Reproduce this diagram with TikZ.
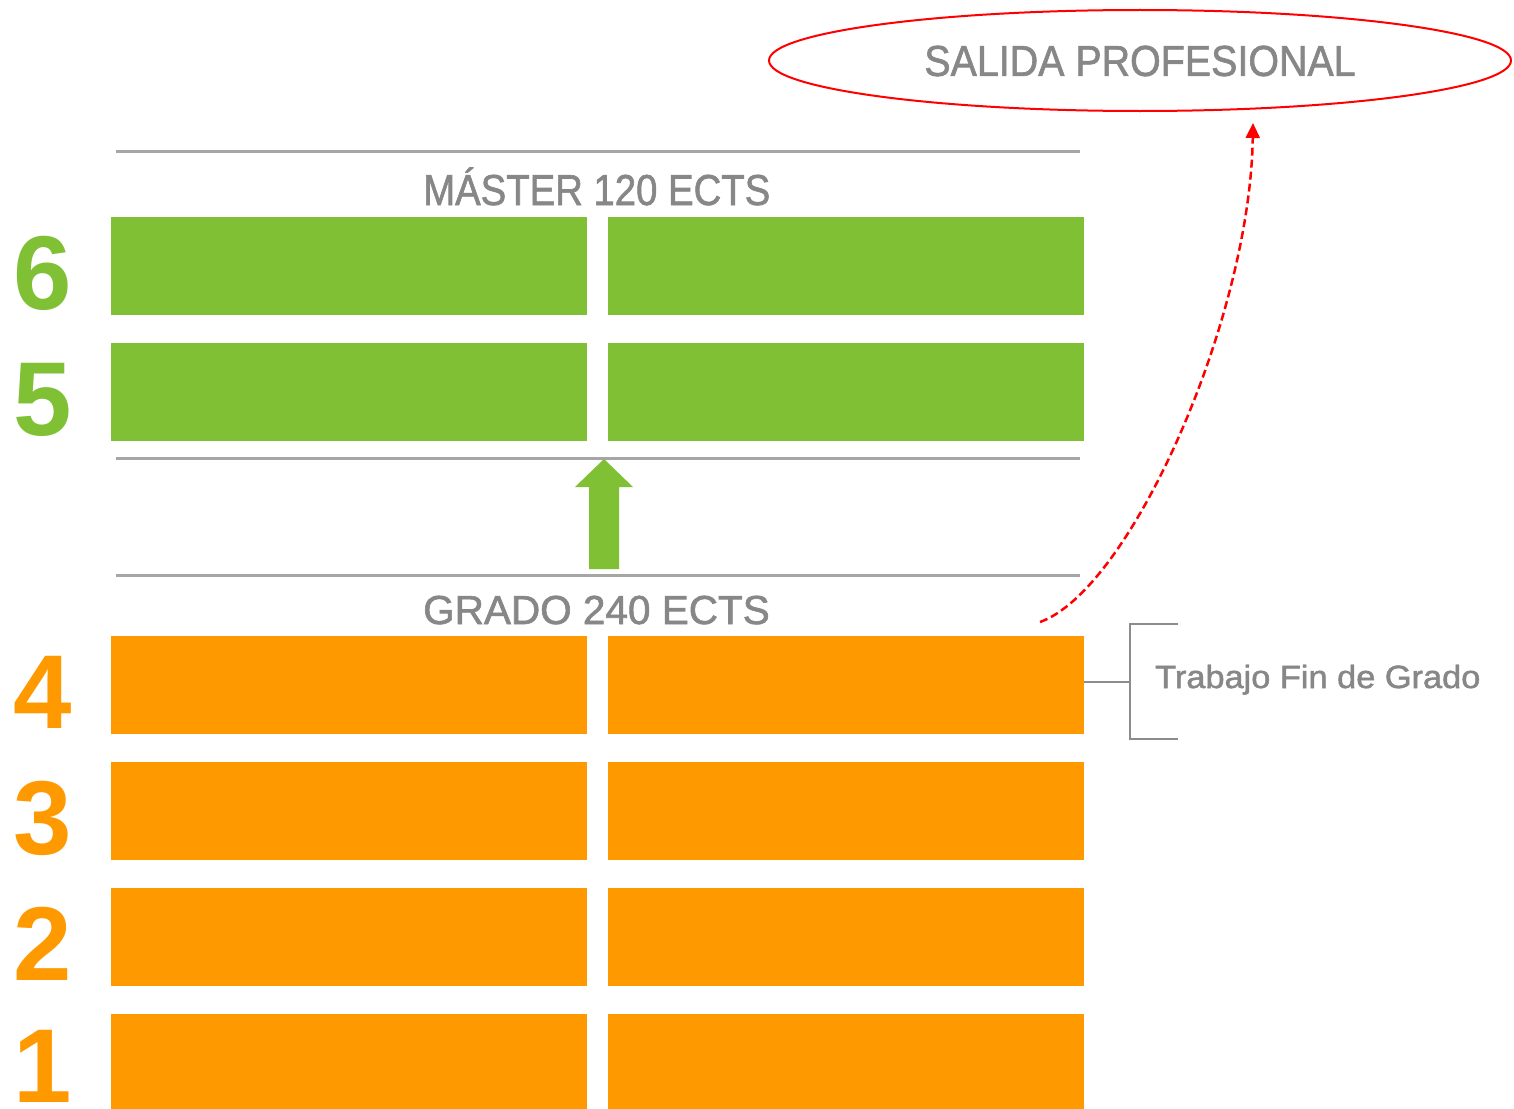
\documentclass[tikz,border=0pt]{standalone}
\usepackage{fontspec}
\setmainfont{Liberation Sans}
\newfontfamily\semifont[FakeBold=1.5]{Liberation Sans}
\usetikzlibrary{arrows.meta,shapes.geometric}
\definecolor{grn}{HTML}{7FC035}
\definecolor{org}{HTML}{FF9900}
\definecolor{txtgray}{HTML}{878787}
\definecolor{linegray}{HTML}{A6A6A6}
\definecolor{brgray}{HTML}{8C8C8C}
\begin{document}
\begin{tikzpicture}[x=1pt,y=-1pt,
  bar/.style={inner sep=0pt, outer sep=0pt, minimum width=476pt, minimum height=98pt},
  mbar/.style={bar, fill=grn},
  gbar/.style={bar, fill=org},
  digit/.style={inner sep=0pt, anchor=base, font=\fontsize{105}{105}\selectfont\bfseries},
  gline/.style={draw=linegray, line width=3pt},
  title/.style={inner sep=0pt, text=txtgray},
  bracket/.style={draw=brgray, line width=2pt},
  dasharrow/.style={draw=red, line width=2.5pt, dash pattern=on 8pt off 4pt, -{Triangle[length=15pt,width=14pt]}}
]
\useasboundingbox (0,0) rectangle (1514,1108);
\fill[white] (0,0) rectangle (1514,1108);

% gray separator lines
\draw[gline] (116,151) -- (1080,151);
\draw[gline] (116,458) -- (1080,458);
\draw[gline] (116,575) -- (1080,575);

% titles
\node[title, anchor=base west] (mtitle) at (423,205)
  {\fontsize{43.3}{50}\semifont\scalebox{0.885}[1]{MÁSTER 120 ECTS}};
\node[title, anchor=base west] (gtitle) at (423,624)
  {\fontsize{40.5}{48}\semifont\scalebox{1.0}[1]{GRADO 240 ECTS}};

% master bars
\node[mbar] (m6l) at (349,266) {};
\node[mbar] (m6r) at (846,266) {};
\node[mbar] (m5l) at (349,392) {};
\node[mbar] (m5r) at (846,392) {};

% grado bars
\node[gbar] (g4l) at (349,685) {};
\node[gbar] (g4r) at (846,685) {};
\node[gbar] (g3l) at (349,811) {};
\node[gbar] (g3r) at (846,811) {};
\node[gbar] (g2l) at (349,937) {};
\node[gbar] (g2r) at (846,937) {};
\node[gbar] (g1l) at (349,1063) {};
\node[gbar] (g1r) at (846,1063) {};

% digits
\node[digit, text=grn] (n6) at (43,309) {6};
\node[digit, text=grn] (n5) at (43,435) {5};
\node[digit, text=org] (n4) at (43,728) {4};
\node[digit, text=org] (n3) at (43,854) {3};
\node[digit, text=org] (n2) at (43,980) {2};
\node[digit, text=org] (n1) at (43,1102) {1};

% green up arrow
\fill[grn] (589,569) -- (589,487) -- (575,487) -- (604,459) -- (633,487) -- (619,487) -- (619,569) -- cycle;

% bracket for Trabajo Fin de Grado
\coordinate (bk) at (1130,682);
\draw[bracket] (g4r.east |- bk) -- (bk);
\draw[bracket] (1178,624) -- (1130,624) -- (1130,739) -- (1178,739);
\node[title, anchor=base west] (tfg) at (1155,688)
  {\fontsize{32.1}{38}\semifont\scalebox{1.07}[1]{Trabajo Fin de Grado}};

% salida profesional
\node[draw=red, line width=2pt, ellipse, minimum width=742pt, minimum height=101pt, inner sep=0pt] (sal) at (1140,60.5) {};
\node[title] (saltext) at (1140,61)
  {\fontsize{43.3}{50}\semifont\scalebox{0.91}[1]{SALIDA PROFESIONAL}};

% dashed red arrow
\coordinate (gstart) at (1040,622);
\coordinate (salend) at (1253,123);
\draw[dasharrow] (gstart) .. controls (1130,590) and (1250,320) .. (salend);
\end{tikzpicture}
\end{document}
